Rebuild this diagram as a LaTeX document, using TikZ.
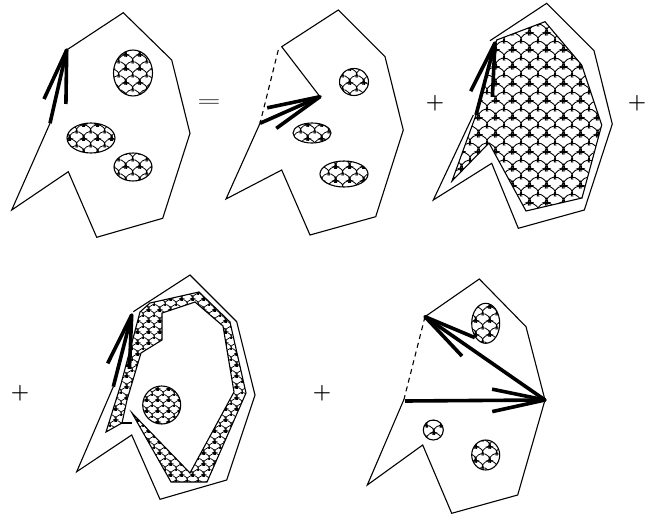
\documentclass[tikz,border=0pt]{standalone}
\usetikzlibrary{patterns,calc}
\newcommand\scarc[3]{%
 \pgfmathsetlengthmacro\scX{(#1)*1pt}%
 \pgfmathsetlengthmacro\scY{(#2)*1pt}%
 \pgfmathsetlengthmacro\scR{(#3)*1pt}%
 \pgfpathmoveto{\pgfpointadd{\pgfqpoint{\scX}{\scY}}{\pgfpointpolar{190}{\scR}}}%
 \pgfpatharc{190}{-10}{\scR}}
\newcommand\declscales[3]{%
\pgfdeclarepatternformonly{#1}{\pgfpointorigin}{\pgfqpoint{#2pt}{#2pt}}{\pgfqpoint{#2pt}{#2pt}}{%
 \pgfsetlinewidth{#3}%
 \scarc{0}{-#2/2}{#2*10/18}\scarc{#2}{-#2/2}{#2*10/18}%
 \scarc{-#2/2}{0}{#2*10/18}\scarc{#2/2}{0}{#2*10/18}\scarc{#2*1.5}{0}{#2*10/18}%
 \scarc{0}{#2/2}{#2*10/18}\scarc{#2}{#2/2}{#2*10/18}%
 \scarc{-#2/2}{#2}{#2*10/18}\scarc{#2/2}{#2}{#2*10/18}\scarc{#2*1.5}{#2}{#2*10/18}%
 \pgfusepath{stroke}}}
\declscales{bigscales}{16.5}{0.9pt}
\declscales{medscales}{14}{0.85pt}
\declscales{smallscales}{10.5}{0.75pt}
\tikzset{
 edge/.style={line width=1.1pt, line join=miter},
 hiddenedge/.style={line width=1.1pt, dash pattern=on 5pt off 4pt},
 bigarr/.style={line width=3.6pt, line cap=butt, line join=round},
 sign/.style={inner sep=0pt, font=\fontsize{21}{21}\selectfont\bfseries},
}
\newcommand\fatarrow[2]{%
 \draw[bigarr] (#1) -- (#2);
 \draw[bigarr] ($(#2)!54pt!12:(#1)$) -- (#2) -- ($(#2)!54pt!-12:(#1)$);}
\begin{document}
\begin{tikzpicture}[x=1pt,y=-1pt]
\useasboundingbox (0,0) rectangle (646,517);
% ---------- figure 1 ----------
\coordinate (a1) at (66.7,50);
\coordinate (a2) at (123.3,12.7);
\coordinate (a3) at (171.7,60);
\coordinate (a4) at (190,133.3);
\coordinate (a5) at (162.7,218.3);
\coordinate (a6) at (96.7,237.3);
\coordinate (a7) at (68.3,171.7);
\coordinate (a8) at (11.7,210);
\coordinate (a9) at (50,123.3);
\draw[edge] (a9) -- (a8) -- (a7) -- (a6) -- (a5) -- (a4) -- (a3) -- (a2) -- (a1);
\fatarrow{a9}{a1}
\draw[edge, pattern=medscales] (133,73) ellipse [x radius=19.5pt, y radius=23pt];
\draw[edge, pattern=medscales] (91,138) ellipse [x radius=24pt, y radius=15pt];
\draw[edge, pattern=medscales] (133,167) ellipse [x radius=19pt, y radius=14pt];
\node (eq) at (209,103) {\scalebox{3.0}[1.8]{$=$}};
% ---------- figure 2 ----------
\coordinate (b0) at (278.3,50);
\coordinate (b1) at (281.7,46.7);
\coordinate (b2) at (338.3,10);
\coordinate (b3) at (385,56.7);
\coordinate (b4) at (403.3,130);
\coordinate (b5) at (375.7,216.7);
\coordinate (b6) at (310,235);
\coordinate (b7) at (281.7,170);
\coordinate (b8) at (226,199);
\coordinate (b9) at (260,123.3);
\coordinate (bt) at (320,96.7);
\draw[edge] (b9) -- (b8) -- (b7) -- (b6) -- (b5) -- (b4) -- (b3) -- (b2) -- (b1) -- (bt);
\draw[hiddenedge] (b0) -- (b9);
\fatarrow{b9}{bt}
\draw[edge, pattern=medscales] (354,82) ellipse [x radius=14.5pt, y radius=13.5pt];
\draw[edge, pattern=medscales] (312,133) ellipse [x radius=19pt, y radius=10pt];
\draw[edge, pattern=medscales] (344,174) ellipse [x radius=24pt, y radius=13pt];
\node[sign] (plus1) at (435,103.5) {+};
% ---------- figure 3 ----------
\coordinate (c1) at (490,40.7);
\coordinate (c2) at (546.7,3.3);
\coordinate (c3) at (594,50.7);
\coordinate (c4) at (612.3,124);
\coordinate (c5) at (584.3,210);
\coordinate (c6) at (518.3,228.3);
\coordinate (c7) at (491.7,163.3);
\coordinate (c8) at (433.3,200);
\coordinate (c9) at (473.3,115);
\draw[edge] (c9) -- (c8) -- (c7) -- (c6) -- (c5) -- (c4) -- (c3) -- (c2) -- (c1);
\coordinate (d1) at (496.7,40);
\coordinate (d2) at (545,21.7);
\coordinate (d3) at (581.7,65);
\coordinate (d4) at (601.7,125);
\coordinate (d5) at (582,198);
\coordinate (d6) at (526,211);
\coordinate (d7) at (489,143);
\coordinate (d8) at (452,181);
\coordinate (d9) at (476,115);
\draw[edge, pattern=bigscales] (d1) -- (d2) -- (d3) -- (d4) -- (d5) -- (d6) -- (d7) -- (d8) -- (d9) -- cycle;
\coordinate (ct) at (495,43);
\fatarrow{d9}{ct}
\node[sign] (plus2) at (637,103.5) {+};
% ---------- figure 4 ----------
\coordinate (e1) at (133.3,311.7);
\coordinate (e2) at (190,275);
\coordinate (e3) at (236.7,321.7);
\coordinate (e4) at (255,395);
\coordinate (e5) at (226.7,480);
\coordinate (e6) at (160,499.3);
\coordinate (e7) at (131.7,435);
\coordinate (e8) at (76.7,471.7);
\coordinate (e9) at (113.3,386.7);
\draw[edge] (e9) -- (e8) -- (e7) -- (e6) -- (e5) -- (e4) -- (e3) -- (e2) -- (e1);
\draw[edge, pattern=smallscales]
 (106,432) -- (121,384) -- (140,312) -- (150,303) -- (199,292) -- (230,322)
 -- (246,393) -- (207,482) -- (171,482) -- (132,413) -- (190,473) -- (234,392)
 -- (223,326) -- (195,302) -- (162,313) -- (162,340) -- (141,353) -- (127,400)
 -- (122,423) -- cycle;
\coordinate (g1) at (122,423);
\coordinate (g2) at (132,423);
\draw[edge] (g1) -- (g2);
\draw[edge, pattern=smallscales] (161.7,405) circle [radius=19pt];
\coordinate (et) at (131.7,315);
\fatarrow{e9}{et}
\node[sign] (plus3) at (20,393) {+};
\node[sign] (plus4) at (322,393) {+};
% ---------- figure 5 ----------
\coordinate (f1) at (425,316.7);
\coordinate (f2) at (479.3,279);
\coordinate (f3) at (526,326.7);
\coordinate (f4) at (545,400);
\coordinate (f5) at (517.7,495);
\coordinate (f6) at (451.7,513.3);
\coordinate (f7) at (422.7,445);
\coordinate (f8) at (367.3,485);
\coordinate (f9) at (404,399.3);
\coordinate (fs) at (405,401);
\draw[edge] (f9) -- (f8) -- (f7) -- (f6) -- (f5) -- (f4) -- (f3) -- (f2) -- (f1);
\draw[hiddenedge] (f1) -- (f9);
\draw[edge, pattern=medscales] (485.7,323.3) ellipse [x radius=14pt, y radius=20pt];
\draw[edge, pattern=medscales] (433.3,430) circle [radius=10pt];
\draw[edge, pattern=medscales] (485.7,455) ellipse [x radius=14pt, y radius=15pt];
\fatarrow{f4}{f1}
\fatarrow{fs}{f4}
\end{tikzpicture}
\end{document}
